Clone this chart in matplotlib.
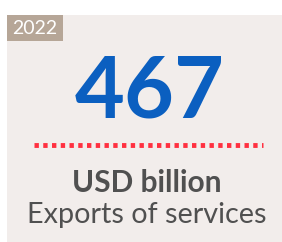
import matplotlib
matplotlib.use("Agg")
import matplotlib.pyplot as plt
from matplotlib.patches import Rectangle

# data
year = "2022"
value = 467
unit = "USD billion"
label = "Exports of services"

W, H = 282, 242
fig = plt.figure(figsize=(W / 100, H / 100), dpi=100)
fig.patch.set_facecolor("white")
ax = fig.add_axes([0, 0, 1, 1])
ax.set_xlim(0, W)
ax.set_ylim(H, 0)
ax.axis("off")

# panel + year badge
ax.add_patch(Rectangle((7, 15), W - 7, H - 15, color="#f2edeb", lw=0))
ax.add_patch(Rectangle((7, 15), 56, 26, color="#b6a697", lw=0))
ax.text(35, 28.5, year, color="white", fontsize=14, family="Lato",
        ha="center", va="center")

ax.text(150, 117, str(value), color="#0b5fc0", fontsize=62, family="Lato",
        fontweight="bold", ha="center", va="baseline")

ax.plot([34, 263], [145, 145], color="#ff3040", lw=3.5,
        linestyle=(0, (0.9, 0.9)), solid_capstyle="butt")

ax.text(147, 192, unit, color="#505050", fontsize=21.5, family="Lato",
        fontweight="bold", ha="center", va="baseline")
ax.text(147, 223, label, color="#505050", fontsize=20.7, family="Lato",
        ha="center", va="baseline")

fig.savefig("out.png", dpi=100)
